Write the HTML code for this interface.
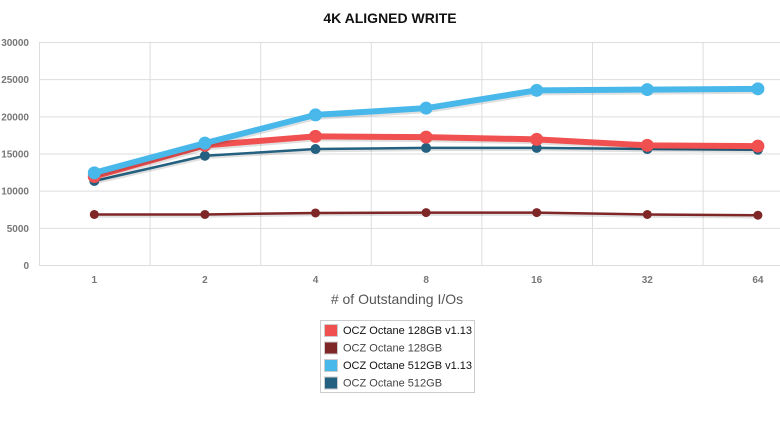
<!DOCTYPE html>
<html><head><meta charset="utf-8"><style>
body{margin:0;background:#fff;width:780px;height:424px;overflow:hidden;font-family:"Liberation Sans",sans-serif}
</style></head><body>
<svg width="780" height="424" id="c">
<text x="390" y="23" text-anchor="middle" font-size="14" font-weight="bold" fill="#111">4K ALIGNED WRITE</text>
<text x="397" y="304" text-anchor="middle" font-size="14" fill="#555"># of Outstanding I/Os</text>
<g id="grid"></g><g id="series"></g>
<g>
<rect x="320.5" y="320.5" width="154" height="72" fill="#fff" stroke="#ccc"/>
<g id="leg"></g>
</g>
</svg>
<script>
const categories=["1","2","4","8","16","32","64"];
const yTicks=[0,5000,10000,15000,20000,25000,30000];
const seriesNames=["OCZ Octane 128GB v1.13","OCZ Octane 128GB","OCZ Octane 512GB v1.13","OCZ Octane 512GB"];
const s128v113=[11900,16100,17300,17200,16900,16100,16000];
const s128=[6800,6800,7000,7050,7050,6800,6700];
const s512v113=[12400,16400,20200,21100,23500,23600,23700];
const s512=[11300,14700,15600,15750,15750,15600,15500];
const NS="http://www.w3.org/2000/svg";
const L=39,T=42,B=265,BW=110.6;
const x=i=>L+BW*(i+0.5);
const y=v=>B-(v/30000)*(B-T);
function mk(tag,attrs,parent){const e=document.createElementNS(NS,tag);for(const k in attrs)e.setAttribute(k,attrs[k]);parent.appendChild(e);return e;}
const g=document.getElementById('grid');
yTicks.forEach(v=>{
 const l=mk('line',{x1:L,x2:780,y1:y(v)+.5,y2:y(v)+.5,stroke:'#ddd'},g);
 
 
 const t=mk('text',{x:29,y:y(v)+4,'text-anchor':'end','font-size':10,fill:'#777','font-weight':'bold'},g);t.textContent=v;
 
 
});
for(let i=0;i<=categories.length;i++){
 const l=mk('line',{x1:L+BW*i+.5,x2:L+BW*i+.5,y1:T,y2:B,stroke:'#ddd'},g);
 
 
}
categories.forEach((c,i)=>{
 const t=mk('text',{x:x(i),y:283,'text-anchor':'middle','font-size':10,fill:'#777','font-weight':'bold'},g);t.textContent=c;
 
 
});
const sg=document.getElementById('series');
const defs=[[s128,'#7f2626',2.5,4.5,'series-128gb'],[s512,'#24607f',2.5,5,'series-512gb'],[s128v113,'#f05050',6,6.5,'series-128gb-v113'],[s512v113,'#48b8ea',6,6.5,'series-512gb-v113']];
defs.forEach(([d,col,w,r,name])=>{
 const pts=d.map((v,i)=>x(i)+','+y(v)).join(' ');
 mk('polyline',{points:d.map((v,i)=>(x(i)+1)+','+(y(v)+2)).join(' '),fill:'none',stroke:'rgba(0,0,0,0.12)','stroke-width':w},sg);
 const p=mk('polyline',{points:pts,fill:'none',stroke:col,'stroke-width':w,'stroke-linejoin':'round'},sg);
 
 
 d.forEach((v,i)=>{const c=mk('circle',{cx:x(i),cy:y(v),r:r,fill:col},sg);
 
 });
});
const lg=document.getElementById('leg');
const lcols=['#f05050','#7f2626','#48b8ea','#24607f'];
seriesNames.forEach((n,i)=>{
 const yy=324+i*17.5;
 const r=mk('rect',{x:324.5,y:yy+.5,width:13,height:12,fill:lcols[i],stroke:'#ccc'},lg);
 
 
 const t=mk('text',{x:343,y:yy+10,'font-size':11,fill:i%2?'#444':'#111'},lg);t.textContent=n;
 
 
});
</script>
</body></html>
